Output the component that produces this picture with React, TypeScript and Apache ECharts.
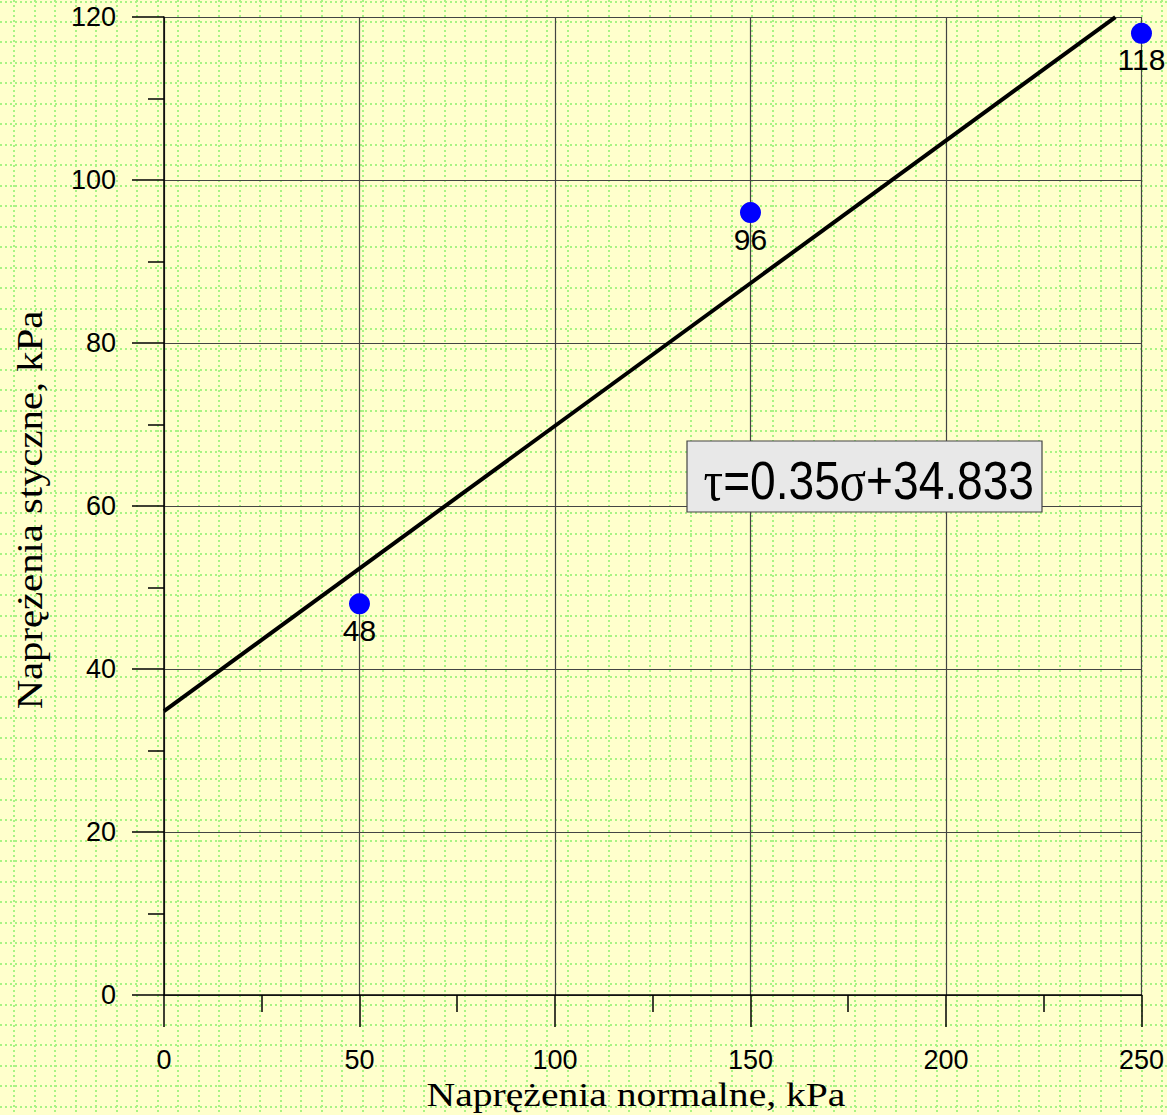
import React, { useEffect, useRef } from "react";
import * as echarts from "echarts";

// Data
const normalStress = [50, 150, 250];
const shearStress = [48, 96, 118];
const fitSlope = 0.35;
const fitIntercept = 34.833;
const fitXRange = [0, 243.33];
const xAxisRange = [0, 250, 50];
const yAxisRange = [0, 120, 20];
const xTitle = "Naprężenia normalne, kPa";
const yTitle = "Naprężenia styczne, kPa";

const W = 1167;
const H = 1115;

export default function App() {
  const ref = useRef<HTMLDivElement>(null);

  useEffect(() => {
    if (!ref.current) return;
    const chart = echarts.init(ref.current, undefined, { renderer: "svg" });

    const bg: any[] = [];
    const dotStyle = { stroke: "#A8F384", lineWidth: 2, lineDash: [2, 3] };
    for (let k = 0; 14 + 20.5 * k < W; k++) {
      const x = Math.round(14 + 20.5 * k);
      bg.push({ type: "line", z: -10, silent: true, shape: { x1: x, y1: 0, x2: x, y2: H }, style: dotStyle });
    }
    for (let k = 0; 1.5 + 20.47 * k < H; k++) {
      const y = Math.round(1.5 + 20.47 * k);
      bg.push({ type: "line", z: -10, silent: true, shape: { x1: 0, y1: y, x2: W, y2: y }, style: dotStyle });
    }

    const scatterData = normalStress.map((x, i) => [x, shearStress[i]]);
    const fitData = fitXRange.map((x) => [x, fitSlope * x + fitIntercept]);

    chart.setOption({
      animation: false,
      backgroundColor: "#FFFFCC",
      grid: { left: 164, top: 17, right: 25, bottom: 120, containLabel: false },
      xAxis: {
        type: "value",
        min: xAxisRange[0],
        max: xAxisRange[1],
        interval: xAxisRange[2],
        axisLine: { show: true, lineStyle: { color: "#000", width: 1.5 } },
        axisTick: { show: true, inside: false, length: 32, lineStyle: { color: "#000", width: 1.5 } },
        minorTick: { show: true, splitNumber: 2, length: 17, lineStyle: { color: "#000", width: 1.5 } },
        axisLabel: { margin: 51, fontFamily: "Liberation Sans", fontSize: 27, color: "#000" },
        splitLine: { show: true, lineStyle: { color: "#444", width: 1.2 } },
      },
      yAxis: {
        type: "value",
        min: yAxisRange[0],
        max: yAxisRange[1],
        interval: yAxisRange[2],
        axisLine: { show: true, lineStyle: { color: "#000", width: 1.5 } },
        axisTick: { show: true, inside: false, length: 32, lineStyle: { color: "#000", width: 1.5 } },
        minorTick: { show: true, splitNumber: 2, length: 16, lineStyle: { color: "#000", width: 1.5 } },
        axisLabel: { margin: 48, fontFamily: "Liberation Sans", fontSize: 27, color: "#000" },
        splitLine: { show: true, lineStyle: { color: "#444", width: 1.2 } },
      },
      series: [
        {
          type: "line",
          data: fitData,
          showSymbol: false,
          symbol: "none",
          lineStyle: { color: "#000", width: 4 },
          z: 3,
          silent: true,
        },
        {
          type: "scatter",
          data: scatterData,
          symbol: "circle",
          symbolSize: 21,
          clip: false,
          itemStyle: { color: "#0000FF", opacity: 1 },
          label: {
            show: true,
            position: "bottom",
            distance: 1,
            formatter: (p: any) => String(p.value[1]),
            fontFamily: "Liberation Sans",
            fontSize: 30,
            color: "#000",
          },
          z: 4,
        },
      ],
      graphic: [
        ...bg,
        {
          type: "text",
          z: 20,
          x: 636,
          y: 1095,
          scaleX: 1.2,
          style: {
            text: xTitle,
            align: "center",
            verticalAlign: "middle",
            fontFamily: "Liberation Serif",
            fontSize: 33,
            fill: "#000",
          },
        },
        {
          type: "text",
          z: 20,
          x: 30,
          y: 510,
          rotation: Math.PI / 2,
          scaleX: 1.13,
          style: {
            text: yTitle,
            align: "center",
            verticalAlign: "middle",
            fontFamily: "Liberation Serif",
            fontSize: 36,
            fill: "#000",
          },
        },
        {
          type: "rect",
          z: 20,
          shape: { x: 687, y: 441, width: 355, height: 71 },
          style: { fill: "#E8E8E8", stroke: "#444", lineWidth: 1.2 },
        },
        {
          type: "text",
          z: 21,
          x: 1034,
          y: 481,
          scaleX: 0.87,
          style: {
            text: "{g|τ}{n|=0.35}{g|σ}{n|+34.833}",
            align: "right",
            verticalAlign: "middle",
            rich: {
              g: { fontFamily: "Liberation Serif", fontSize: 56, fill: "#000" },
              n: { fontFamily: "Liberation Sans", fontSize: 53, fill: "#000" },
            },
          },
        },
      ],
    });

    return () => chart.dispose();
  }, []);

  return (
    <div
      ref={ref}
      style={{ position: "fixed", left: 0, top: 0, width: W, height: H }}
    />
  );
}
